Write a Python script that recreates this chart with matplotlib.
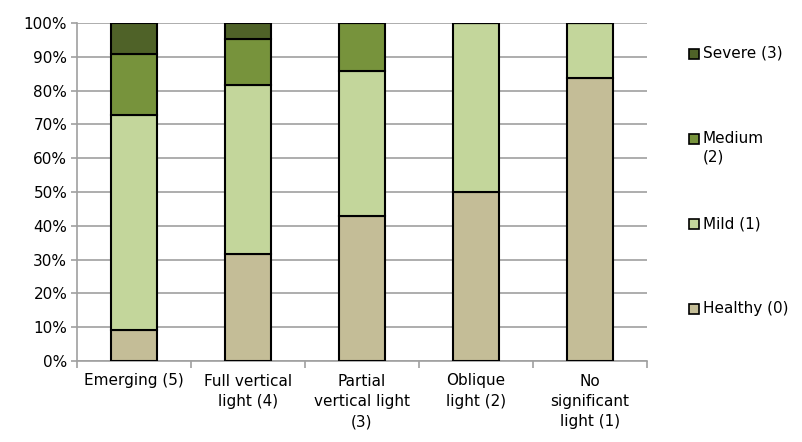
import matplotlib.pyplot as plt
import numpy as np
from matplotlib.patches import Rectangle

categories = ['Emerging (5)', 'Full vertical\nlight (4)', 'Partial\nvertical light\n(3)',
              'Oblique\nlight (2)', 'No\nsignificant\nlight (1)']
healthy = [9.1, 31.8, 42.9, 50.0, 83.7]
mild = [63.6, 50.0, 42.9, 50.0, 16.3]
medium = [18.2, 13.6, 14.2, 0.0, 0.0]
severe = [9.1, 4.6, 0.0, 0.0, 0.0]

series = [('Healthy (0)', healthy, '#C4BD97'),
          ('Mild (1)', mild, '#C3D69B'),
          ('Medium\n(2)', medium, '#77933C'),
          ('Severe (3)', severe, '#4F6228')]

plt.rcParams['font.family'] = 'DejaVu Sans'

W, H = 802, 442
fig = plt.figure(figsize=(W/100, H/100), dpi=100)
ax = fig.add_axes([77/W, 1-361/H, 570/W, 338/H])

x = np.arange(len(categories))
bottom = np.zeros(len(categories))
for name, vals, col in series:
    vals = np.array(vals)
    ax.bar(x, vals, 0.4, bottom=bottom, color=col, edgecolor='black', linewidth=1.5, zorder=3)
    bottom += vals

ax.set_xlim(-0.5, len(categories) - 0.5)
ax.set_ylim(0, 100)
ax.set_yticks(np.arange(0, 101, 10))
ax.set_yticklabels(['%d%%' % v for v in range(0, 101, 10)], fontsize=11)
ax.yaxis.grid(True, color='#A0A0A0', linewidth=1.2, zorder=0)
ax.set_xticks(x)
ax.set_xticklabels(categories, fontsize=11, linespacing=1.45)
ax.set_xticks(np.arange(-0.5, len(categories)), minor=True)
ax.tick_params(axis='x', which='major', length=0, pad=9)
ax.tick_params(axis='x', which='minor', length=5, color='#A0A0A0', width=1.2)
ax.tick_params(axis='y', length=4, color='#A0A0A0', width=1.2, pad=3)
for s in ['top', 'right']:
    ax.spines[s].set_visible(False)
for s in ['left', 'bottom']:
    ax.spines[s].set_color('#A0A0A0')
    ax.spines[s].set_linewidth(1.2)

# legend drawn by hand, Severe at the top, handle level with the first text line
leg_y = [309, 224, 139, 54]
for (name, vals, col), yc in zip(series, leg_y):
    fig.patches.append(Rectangle((689/W, 1-(yc+5)/H), 10/W, 10/H, transform=fig.transFigure,
                                 facecolor=col, edgecolor='black', linewidth=1.2))
    fig.text(703/W, 1-(yc-8)/H, name, fontsize=11, va='top', ha='left', linespacing=1.3)

fig.savefig('out.png', dpi=100)
